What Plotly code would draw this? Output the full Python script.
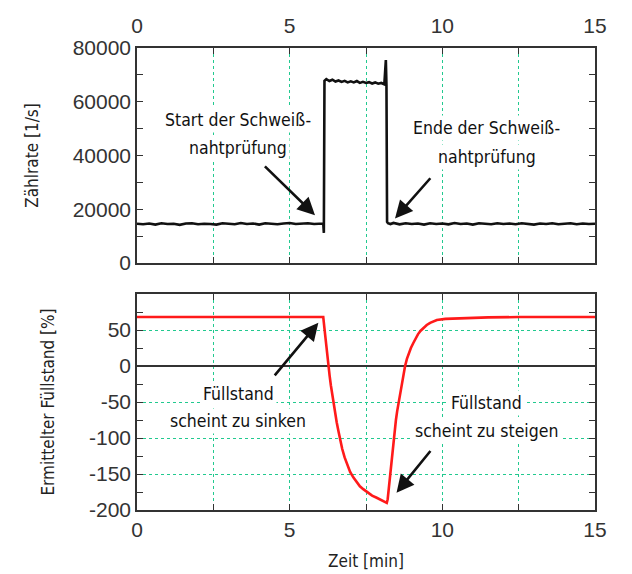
import plotly.graph_objects as go

# ---------------- data ----------------
# Zählrate (count rate) over time
t_rate = [0.0, 0.2, 0.4, 0.6, 0.8, 1.0, 1.2, 1.4, 1.6, 1.8, 2.0, 2.2, 2.4, 2.6, 2.8, 3.0,
          3.2, 3.4, 3.6, 3.8, 4.0, 4.2, 4.4, 4.6, 4.8, 5.0, 5.2, 5.4, 5.6, 5.8, 6.0, 6.1,
          6.12, 6.14, 6.2, 6.3, 6.4, 6.5, 6.6, 6.7, 6.8, 6.9, 7.0, 7.1, 7.2, 7.3, 7.4, 7.5,
          7.6, 7.7, 7.8, 7.9, 8.0, 8.1, 8.15, 8.17, 8.19, 8.22, 8.3, 8.4, 8.6, 8.8, 9.0,
          9.2, 9.4, 9.6, 9.8, 10.0, 10.2, 10.4, 10.6, 10.8, 11.0, 11.2, 11.4, 11.6, 11.8,
          12.0, 12.2, 12.4, 12.6, 12.8, 13.0, 13.2, 13.4, 13.6, 13.8, 14.0, 14.2, 14.4,
          14.6, 14.8, 15.0]
rate = [14600, 14400, 14700, 14300, 14800, 14500, 14600, 14200, 14700, 14800, 14400, 14600,
        14500, 14300, 14800, 14600, 14400, 14900, 14500, 14700, 14300, 14800, 14600, 14400,
        14700, 14900, 14500, 14600, 14800, 14500, 14700, 14700,
        11200, 67800, 68400, 67700, 68200, 67500, 67900, 67400, 67800, 67200, 67600, 67200,
        67700, 67000, 67400, 67000, 67300, 66800, 67200, 66700, 67000, 66500, 75500, 66000,
        15300, 14800, 14500, 14900, 14400, 14800, 14500, 14700, 14300, 14800, 14500, 14700,
        14400, 14900, 14500, 14700, 14300, 14800, 14600, 14400, 14800, 14500, 14700, 14400,
        14800, 14600, 14300, 14700, 14500, 14800, 14400, 14600, 14800, 14400, 14700, 14500,
        14600]

# Ermittelter Füllstand (determined fill level) over time
t_fill = [0.0, 3.0, 6.1, 6.14, 6.18, 6.22, 6.27, 6.31, 6.35, 6.39, 6.43, 6.48, 6.54, 6.6,
          6.65, 6.72, 6.8, 6.89, 6.98, 7.09, 7.2, 7.3, 7.41, 7.55, 7.7, 7.85, 8.0, 8.1, 8.18,
          8.21, 8.25, 8.3, 8.35, 8.4, 8.44, 8.48, 8.52, 8.57, 8.62, 8.67, 8.72, 8.78, 8.84,
          8.9, 8.97, 9.05, 9.12, 9.2, 9.29, 9.38, 9.49, 9.6, 9.71, 9.82, 10.1, 10.4, 11.0,
          11.5, 12.5, 15.0]
fill = [68, 68, 68, 52, 35, 17, 0, -14, -27, -39, -51, -63, -78, -91,
        -102, -115, -127, -138, -147, -155, -162, -167, -171, -176, -180, -183, -186, -188, -190,
        -185, -168, -145, -123, -102, -88, -75, -63, -51, -37, -24, -12, 0, 10,
        18, 25, 32, 38, 44, 49, 53, 57, 60, 62, 64, 65.5, 66, 67,
        67.5, 68, 68]

x_ticks = [0, 2.5, 5, 7.5, 10, 12.5, 15]
x_labels = ["0", "", "5", "", "10", "", "15"]
rate_ticks = [0, 20000, 40000, 60000, 80000]
rate_labels = ["0", "20000", "40000", "60000", "80000"]
fill_ticks = [-200, -150, -100, -50, 0, 50, 100]
fill_labels = ["-200", "-150", "-100", "-50", "0", "50", ""]

# ---------------- style ----------------
GRID = "#21c98f"
AX = "#333333"
NARROW = "DejaVu Sans Condensed, Open Sans"
TICKFONT = dict(family="Liberation Sans, Arial", size=21, color="#333333")
TXTFONT = dict(family=NARROW, size=17.5, color="#111111")
TITLEFONT = dict(family=NARROW, size=17, color="#222222")

fig = go.Figure()
fig.add_trace(go.Scatter(x=t_rate, y=rate, mode="lines", xaxis="x", yaxis="y",
                         line=dict(color="#111111", width=2.6), showlegend=False))
fig.add_trace(go.Scatter(x=t_fill, y=fill, mode="lines", xaxis="x2", yaxis="y2",
                         line=dict(color="#ff1a1a", width=2.6), showlegend=False))

common_x = dict(range=[0, 15], tickmode="array", tickvals=x_ticks, ticktext=x_labels,
                showgrid=True, gridcolor=GRID, griddash="dot", gridwidth=1.2,
                ticks="inside", ticklen=6, tickcolor=AX, showline=True, linecolor=AX,
                linewidth=1.5, mirror="ticks", zeroline=False, tickfont=TICKFONT,
                automargin=False)

fig.update_layout(
    width=632, height=574,
    margin=dict(l=129, r=45, t=40, b=72, autoexpand=False),
    paper_bgcolor="white", plot_bgcolor="white",
    xaxis=dict(common_x, domain=[0, 1], anchor="y", side="top", ticklabelstandoff=5),
    yaxis=dict(domain=[0.5346, 1], anchor="x", range=[0, 80000], tickmode="array",
               tickvals=rate_ticks, ticktext=rate_labels, showgrid=False, zeroline=False,
               ticks="inside", ticklen=6, tickcolor=AX, showline=True, linecolor=AX,
               linewidth=1.5, mirror="ticks", tickfont=TICKFONT, automargin=False,
               minor=dict(dtick=10000, ticks="inside", ticklen=6, tickcolor=AX, showgrid=False),
               title=dict(text="Zählrate [1/s]", font=TITLEFONT, standoff=30)),
    xaxis2=dict(common_x, domain=[0, 1], anchor="y2", side="bottom",
                title=dict(text="Zeit [min]", font=TITLEFONT, standoff=15)),
    yaxis2=dict(domain=[0, 0.4675], anchor="x2", range=[-200, 100], tickmode="array",
                tickvals=fill_ticks, ticktext=fill_labels, showgrid=True, gridcolor=GRID,
                griddash="dot", gridwidth=1.2, zeroline=True, zerolinecolor=AX,
                zerolinewidth=1.8, ticks="inside", ticklen=6, tickcolor=AX, showline=True,
                linecolor=AX, linewidth=1.5, mirror="ticks", tickfont=TICKFONT,
                automargin=False,
                minor=dict(dtick=25, ticks="inside", ticklen=6, tickcolor=AX, showgrid=False),
                title=dict(text="Ermittelter Füllstand [%]", font=TITLEFONT, standoff=30)),
)

def label(text, x, y, xr, yr):
    fig.add_annotation(text=text, x=x, y=y, xref=xr, yref=yr, showarrow=False,
                       font=TXTFONT, bgcolor="white", borderpad=2, align="center")

def arrow(x, y, ax, ay, xr, yr):
    fig.add_annotation(text="", x=x, y=y, ax=ax, ay=ay, xref=xr, yref=yr, axref=xr,
                       ayref=yr, showarrow=True, arrowhead=2, arrowsize=1.35,
                       arrowwidth=2.6, arrowcolor="#111111", standoff=0)

label("Start der Schweiß-", 3.32, 53200, "x", "y")
label("nahtprüfung", 3.32, 42800, "x", "y")
label("Ende der Schweiß-", 11.46, 50100, "x", "y")
label("nahtprüfung", 11.46, 39600, "x", "y")
arrow(5.83, 17800, 4.14, 36500, "x", "y")
arrow(8.45, 16600, 9.65, 32100, "x", "y")

label("Füllstand", 3.32, -39, "x2", "y2")
label("scheint zu sinken", 3.32, -76, "x2", "y2")
label("Füllstand", 11.46, -51, "x2", "y2")
label("scheint zu steigen", 11.46, -90, "x2", "y2")
arrow(5.94, 60, 4.47, -15, "x2", "y2")
arrow(8.5, -176, 9.65, -116, "x2", "y2")

fig.write_html("out.html")
